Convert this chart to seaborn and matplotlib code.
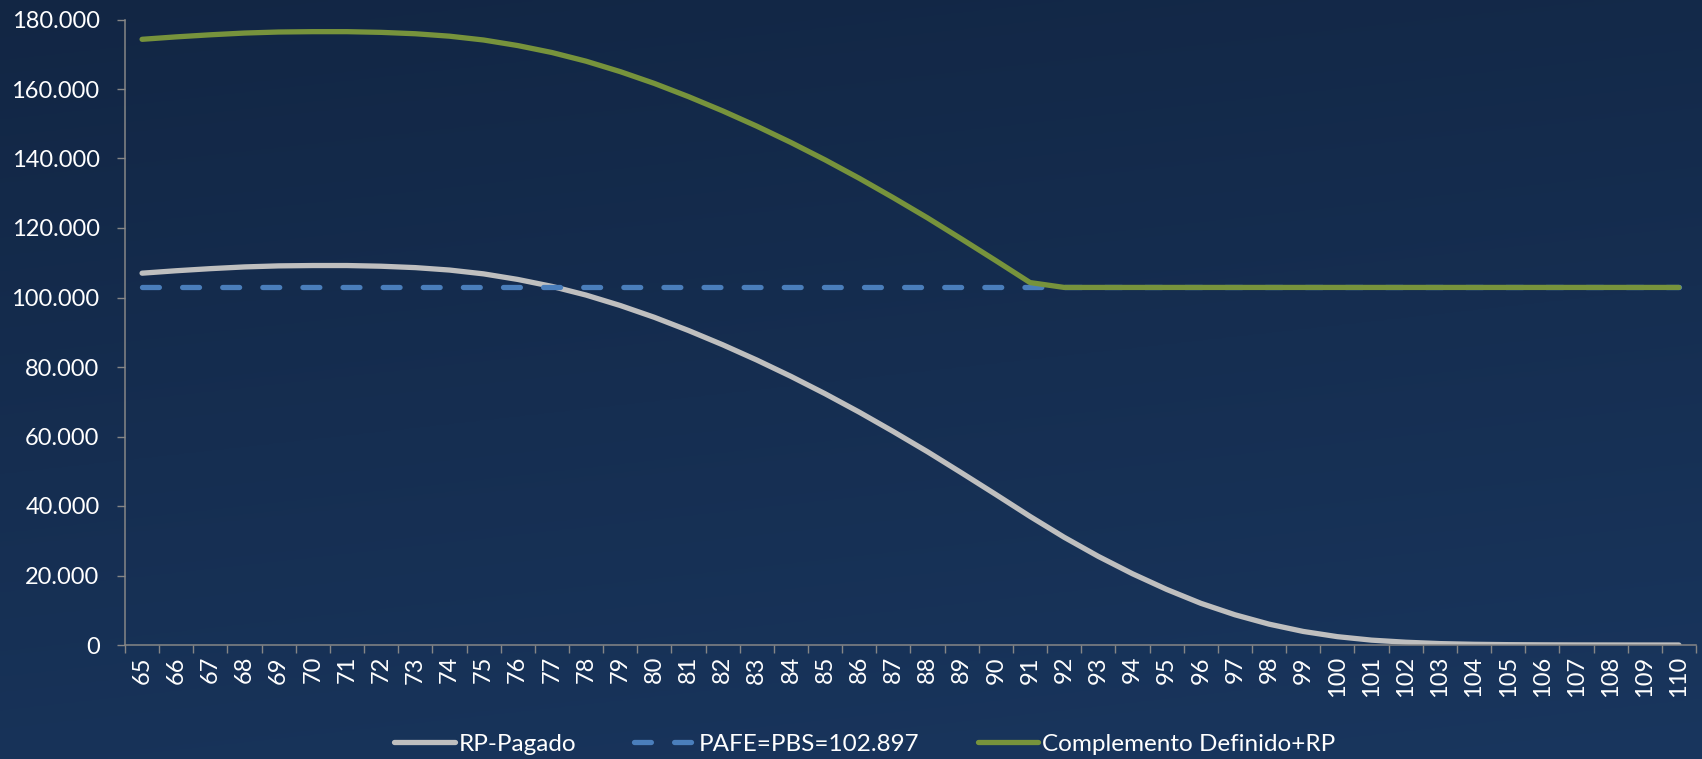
import numpy as np
import pandas as pd
import matplotlib
matplotlib.use("Agg")
import matplotlib.pyplot as plt
from matplotlib.ticker import FuncFormatter, FixedLocator
import seaborn as sns

# Ages on the horizontal axis
ages = list(range(65, 111))

# Pension paid by the insurer (RP), in thousands
rp_pagado = [
    107.0, 107.7, 108.3, 108.8, 109.1, 109.2, 109.2, 109.0, 108.6, 107.9,
    106.8, 105.2, 103.2, 100.7, 97.7, 94.3, 90.5, 86.4, 82.0, 77.3,
    72.3, 67.0, 61.4, 55.6, 49.5, 43.3, 37.0, 31.0, 25.5, 20.5,
    16.0, 12.0, 8.7, 6.0, 3.9, 2.4, 1.4, 0.8, 0.4, 0.2,
    0.1, 0.05, 0.02, 0.01, 0.0, 0.0,
]
rp_pagado = [v * 1000 for v in rp_pagado]

# Guaranteed pension level
pafe_pbs = [102897] * len(ages)

# Defined complement plus RP, in thousands
complemento_rp = [
    174.3, 175.0, 175.6, 176.1, 176.4, 176.5, 176.5, 176.3, 175.9, 175.2,
    174.1, 172.5, 170.5, 168.0, 165.0, 161.6, 157.8, 153.7, 149.3, 144.6,
    139.6, 134.3, 128.7, 122.9, 116.8, 110.6, 104.3, 102.897, 102.897, 102.897,
    102.897, 102.897, 102.897, 102.897, 102.897, 102.897, 102.897, 102.897, 102.897, 102.897,
    102.897, 102.897, 102.897, 102.897, 102.897, 102.897,
]
complemento_rp = [v * 1000 for v in complemento_rp]

series_names = ["RP-Pagado", "PAFE=PBS=102.897", "Complemento Definido+RP"]
y_ticks = list(range(0, 180001, 20000))

df = pd.DataFrame({
    "edad": ages,
    series_names[0]: rp_pagado,
    series_names[1]: pafe_pbs,
    series_names[2]: complemento_rp,
})

sns.set_theme(style="white")
plt.rcParams["font.family"] = ["Lato", "DejaVu Sans"]

W, H = 1702, 759
fig = plt.figure(figsize=(W / 100, H / 100), dpi=100)

# Navy gradient backdrop
bg = fig.add_axes([0, 0, 1, 1], zorder=-10)
top = np.array([18, 38, 68]) / 255
bottom = np.array([25, 54, 94]) / 255
yy, xx = np.mgrid[0:1:300j, 0:1:600j]
t = np.clip(0.8 * yy + 0.2 * xx, 0, 1)[..., None]
grad = top * (1 - t) + bottom * t
bg.imshow(grad, extent=[0, 1, 0, 1], aspect="auto", origin="upper")
bg.set_axis_off()

left, right = 125 / W, 1696 / W
bot, topy = 1 - 645 / H, 1 - 19.5 / H
ax = fig.add_axes([left, bot, right - left, topy - bot])
ax.set_facecolor("none")

gray = "#BFBFBF"
blue = "#4A7EBB"
green = "#77933C"

sns.lineplot(data=df, x="edad", y=series_names[0], ax=ax, color=gray,
             linewidth=3.8, solid_capstyle="round", label=series_names[0])
sns.lineplot(data=df, x="edad", y=series_names[1], ax=ax, color=blue,
             linewidth=3.8, linestyle=(0, (3.2, 4.4)), dash_capstyle="round",
             label=series_names[1])
sns.lineplot(data=df, x="edad", y=series_names[2], ax=ax, color=green,
             linewidth=3.8, solid_capstyle="round", label=series_names[2])

ax.set_xlim(ages[0] - 0.5, ages[-1] + 0.5)
ax.set_ylim(0, 180000)
ax.set_xlabel("")
ax.set_ylabel("")

ax.yaxis.set_major_locator(FixedLocator(y_ticks))
ax.yaxis.set_major_formatter(FuncFormatter(lambda v, p: f"{int(round(v)):,}".replace(",", ".")))
ax.set_xticks(ages)
ax.set_xticklabels([str(a) for a in ages], rotation=90)
ax.xaxis.set_minor_locator(FixedLocator([a - 0.5 for a in ages] + [ages[-1] + 0.5]))

axis_gray = "#868686"
for side in ["top", "right"]:
    ax.spines[side].set_visible(False)
for side in ["left", "bottom"]:
    ax.spines[side].set_color(axis_gray)
    ax.spines[side].set_linewidth(1.1)

ax.tick_params(axis="y", which="major", direction="out", length=5.8, width=1.0,
               color=axis_gray, pad=12.5, labelsize=17, labelcolor="white", left=True)
ax.tick_params(axis="x", which="major", length=0, pad=8, labelsize=17, labelcolor="white",
               bottom=True)
ax.tick_params(axis="x", which="minor", direction="out", length=5.5, width=1.0,
               color=axis_gray, bottom=True)

handles, labels = ax.get_legend_handles_labels()
if ax.get_legend() is not None:
    ax.get_legend().remove()
fig.legend(handles, labels, loc="center", bbox_to_anchor=(0.508, 1 - 744 / H),
           ncol=3, frameon=False, fontsize=17.5, labelcolor="white",
           handlelength=2.5, handletextpad=0.15, columnspacing=2.4)

fig.savefig("out.png", dpi=100)
